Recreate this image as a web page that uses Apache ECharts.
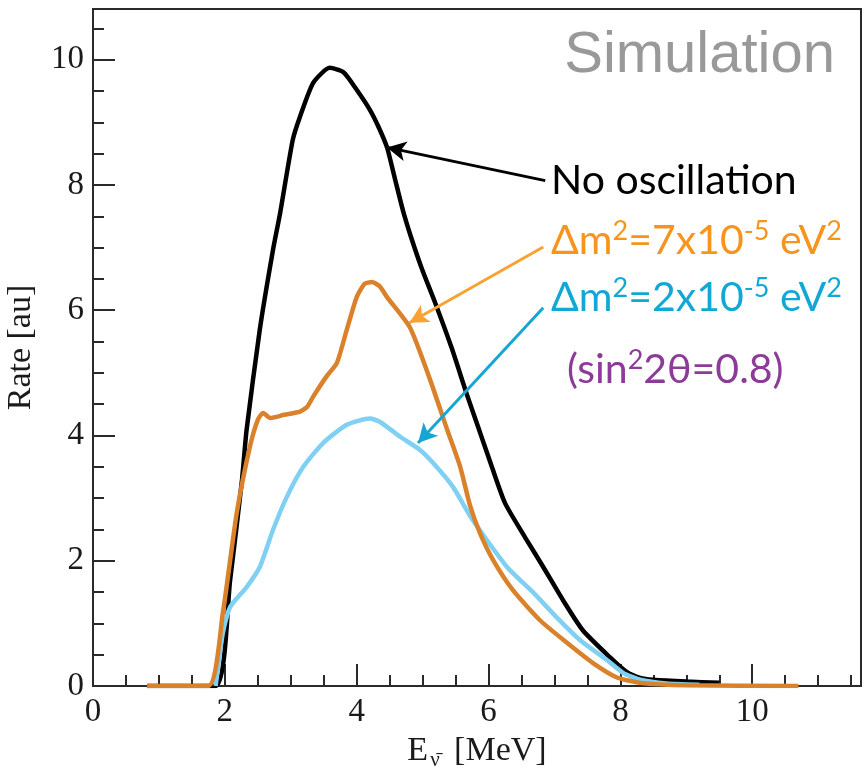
<!DOCTYPE html>
<html>
<head>
<meta charset="utf-8">
<script src="https://cdn.jsdelivr.net/npm/echarts@6/dist/echarts.min.js"></script>
<style>
  html, body { margin: 0; padding: 0; background: #fff; }
  #main { width: 866px; height: 771px; }
</style>
</head>
<body>
<div id="main"></div>
<script>
// 数据: [E (MeV), rate]
var noOscillation = [
  [0.82, 0], [1.86, 0], [2.08, 1.69], [2.26, 3.29], [2.33, 4.09], [2.53, 5.69],
  [2.73, 6.96], [2.84, 7.56], [3.03, 8.72], [3.14, 9.09], [3.34, 9.63], [3.59, 9.87],
  [3.8, 9.8], [4.0, 9.52], [4.2, 9.2], [4.33, 8.93], [4.46, 8.6], [4.58, 8.1],
  [4.7, 7.6], [4.83, 7.15], [5.0, 6.63], [5.19, 6.12], [5.44, 5.4], [5.67, 4.66],
  [5.87, 4.05], [6.05, 3.5], [6.25, 2.92], [6.58, 2.33], [6.83, 1.9], [7.13, 1.37],
  [7.43, 0.89], [7.84, 0.46], [8.1, 0.22], [8.3, 0.13], [8.5, 0.1], [9.0, 0.07], [9.5, 0.05]
]
var dm7 = [
  [0.82, 0], [1.75, 0], [1.97, 1.17], [2.18, 2.76], [2.38, 3.82], [2.5, 4.25],
  [2.58, 4.36], [2.69, 4.28], [2.9, 4.33], [3.14, 4.38], [3.25, 4.46], [3.34, 4.62],
  [3.54, 4.94], [3.7, 5.16], [3.85, 5.69], [4.0, 6.21], [4.12, 6.42], [4.23, 6.45],
  [4.35, 6.38], [4.46, 6.21], [4.81, 5.72], [5.11, 4.9], [5.37, 4.1], [5.57, 3.5],
  [5.72, 2.88], [5.87, 2.44], [6.07, 2.01], [6.37, 1.53], [6.78, 1.05], [7.19, 0.69],
  [7.58, 0.37], [7.94, 0.14], [8.3, 0.05], [9.0, 0.01], [10.7, 0]
]
var dm2 = [
  [1.86, 0], [1.97, 0.85], [2.08, 1.26], [2.33, 1.58], [2.53, 1.9], [2.73, 2.49],
  [2.94, 3.02], [3.19, 3.5], [3.49, 3.88], [3.85, 4.17], [4.2, 4.27], [4.35, 4.22],
  [4.66, 3.98], [4.96, 3.77], [5.16, 3.56], [5.46, 3.18], [5.76, 2.65], [6.28, 1.9],
  [6.68, 1.49], [7.03, 1.1], [7.39, 0.73], [7.79, 0.42], [8.04, 0.21], [8.3, 0.1],
  [8.7, 0.04], [9.2, 0.02]
]
// 箭头: [起点, 终点]
var arrowNoOsc = [[6.86, 8.07], [4.46, 8.6]]
var arrowDm7 = [[6.83, 7.01], [4.8, 5.8]]
var arrowDm2 = [[6.83, 6.04], [4.93, 3.88]]

var xMax = 11.65
var yMax = 10.81

var chart = echarts.init(document.getElementById('main'))

var serif = 'Liberation Serif'
var gill = 'Lato'

function arrow (pts, color) {
  return {
    silent: true,
    symbol: ['none', 'arrow'],
    symbolSize: [15, 19],
    label: { show: false },
    lineStyle: { color: color, width: 3, type: 'solid' },
    data: [[{ coord: pts[0] }, { coord: pts[1] }]]
  }
}

function curve (name, data, color) {
  return {
    name: name,
    type: 'line',
    data: data,
    showSymbol: false,
    smooth: 0.2,
    lineStyle: { color: color, width: 4.5 },
    animation: false
  }
}

function superText (parts, color, size) {
  var rich = {
    t: { fontSize: size, fontFamily: gill, fill: color, lineHeight: size + 4 },
    s: { fontSize: Math.round(size * 0.67), fontFamily: gill, fill: color, verticalAlign: 'top', lineHeight: Math.round(size * 0.67) }
  }
  return { text: parts, rich: rich }
}

var option = {
  animation: false,
  grid: {
    left: 93, right: 5, top: 9, bottom: 85,
    outerBoundsMode: 'none',
    containLabel: false,
    show: true, borderColor: '#2a2a2a', borderWidth: 2
  },
  xAxis: [{
    type: 'value', min: 0, max: xMax, interval: 2,
    axisLine: { show: true, lineStyle: { color: '#2a2a2a', width: 2 } },
    axisTick: { inside: true, length: 22, lineStyle: { color: '#2a2a2a', width: 2 } },
    splitLine: { show: false },
    axisLabel: {
      margin: 10, color: '#1a1a1a', fontFamily: serif, fontSize: 33,
      formatter: function (v) { return v % 2 === 0 ? String(v) : '' }
    },
    name: '{a|E}{b|ν̄}{a| [MeV]}',
    nameLocation: 'middle',
    nameGap: 42,
    nameTextStyle: {
      rich: {
        a: { fontSize: 34, fontFamily: serif, color: '#1a1a1a', lineHeight: 36, verticalAlign: 'top' },
        b: { fontSize: 21, fontFamily: serif, color: '#1a1a1a', lineHeight: 21, padding: [16, 6, 0, 2], verticalAlign: 'top' }
      }
    }
  }, {
    type: 'value', min: 0, max: xMax, interval: 0.5, position: 'bottom',
    axisLine: { show: false },
    axisTick: { inside: true, length: 11, lineStyle: { color: '#2a2a2a', width: 2 } },
    axisLabel: { show: false },
    splitLine: { show: false }
  }],
  yAxis: [{
    type: 'value', min: 0, max: yMax, interval: 2,
    axisLine: { show: true, lineStyle: { color: '#2a2a2a', width: 2 } },
    axisTick: { inside: true, length: 22, lineStyle: { color: '#2a2a2a', width: 2 } },
    splitLine: { show: false },
    axisLabel: {
      margin: 9, color: '#1a1a1a', fontFamily: serif, fontSize: 33,
      formatter: function (v) { return v % 2 === 0 ? String(v) : '' }
    },
    name: 'Rate [au]',
    nameLocation: 'middle',
    nameGap: 55,
    nameTextStyle: { fontSize: 34, fontFamily: serif, color: '#1a1a1a' }
  }, {
    type: 'value', min: 0, max: yMax, interval: 0.5, position: 'left',
    axisLine: { show: false },
    axisTick: { inside: true, length: 11, lineStyle: { color: '#2a2a2a', width: 2 } },
    axisLabel: { show: false },
    splitLine: { show: false }
  }],
  series: [
    Object.assign(curve('No oscillation', noOscillation, '#000000'), { markLine: arrow(arrowNoOsc, '#000000') }),
    Object.assign(curve('dm2=2e-5', dm2, '#7fd0f2'), { markLine: arrow(arrowDm2, '#17a6d3') }),
    Object.assign(curve('dm2=7e-5', dm7, '#d9822b'), { markLine: arrow(arrowDm7, '#f7a232') })
  ],
  graphic: [
    {
      type: 'text', right: 31, top: 27,
      style: { text: 'Simulation', fill: '#999999', font: '58px "Liberation Sans"' }
    },
    {
      type: 'text', left: 551, top: 160,
      style: { text: 'No oscillation', fill: '#000000', font: '41px Lato' }
    },
    {
      type: 'text', left: 551, top: 218,
      style: superText('{t|Δm}{s|2}{t|=7x10}{s|-5}{t| eV}{s|2}', '#f7941d', 41)
    },
    {
      type: 'text', left: 551, top: 275,
      style: superText('{t|Δm}{s|2}{t|=2x10}{s|-5}{t| eV}{s|2}', '#12a8d5', 41)
    },
    {
      type: 'text', left: 567, top: 347,
      style: superText('{t|(sin}{s|2}{t|2θ=0.8)}', '#8c3b98', 41)
    }
  ]
}

chart.setOption(option)
</script>
</body>
</html>
